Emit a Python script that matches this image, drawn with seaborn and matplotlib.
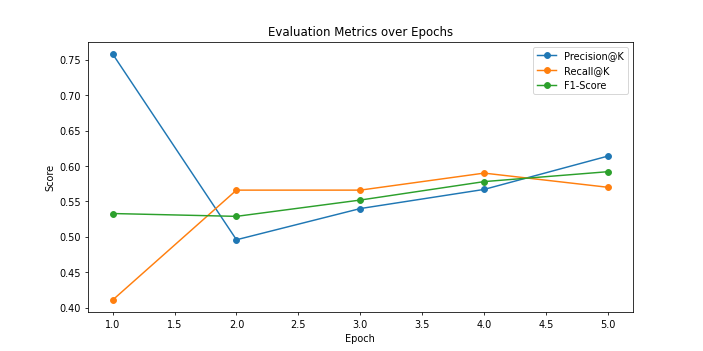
import matplotlib
matplotlib.use("Agg")
import matplotlib.pyplot as plt
import seaborn as sns
import pandas as pd

epochs = [1, 2, 3, 4, 5]
precision = [0.758, 0.496, 0.540, 0.567, 0.614]
recall = [0.411, 0.566, 0.566, 0.590, 0.570]
f1 = [0.533, 0.529, 0.552, 0.578, 0.592]
series_names = ["Precision@K", "Recall@K", "F1-Score"]

df = pd.DataFrame({
    "Epoch": epochs * 3,
    "Score": precision + recall + f1,
    "Metric": [series_names[0]] * 5 + [series_names[1]] * 5 + [series_names[2]] * 5,
})

fig, ax = plt.subplots(figsize=(10, 5), dpi=70.3)
colors = ["#1f77b4", "#ff7f0e", "#2ca02c"]
for name, c in zip(series_names, colors):
    sub = df[df["Metric"] == name]
    sns.lineplot(data=sub, x="Epoch", y="Score", marker="o", markersize=6,
                 markeredgewidth=1, markeredgecolor=c, color=c, label=name, ax=ax)

ax.set_title("Evaluation Metrics over Epochs")
ax.set_xlabel("Epoch")
ax.set_ylabel("Score")
ax.legend(loc="upper right")
fig.savefig("out.png", dpi=70.3)
